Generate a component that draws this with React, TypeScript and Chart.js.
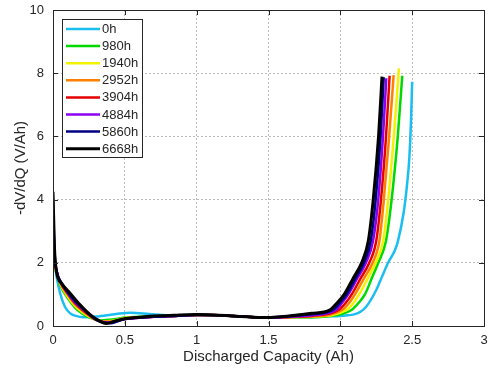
import React, { useEffect, useRef } from "react";
import { Chart, registerables } from "chart.js";

Chart.register(...registerables);

const seriesLabels = ["0h", "980h", "1940h", "2952h", "3904h", "4884h", "5860h", "6668h"];
const seriesColors = ["#1BBEF0", "#00D800", "#F2F200", "#FF8000", "#E60000", "#8A00F5", "#000080", "#000000"];
const seriesWidths = [2.5, 2.5, 2.5, 2.5, 2.5, 2.5, 2.5, 3];

const xTicks = [0, 0.5, 1, 1.5, 2, 2.5, 3];
const yTicks = [0, 2, 4, 6, 8, 10];

// 0h
const cap0h = [0, 0.01, 0.025, 0.05, 0.083, 0.12, 0.16, 0.21, 0.3, 0.44, 0.54, 0.67, 0.8, 0.9, 1.0, 1.1, 1.2, 1.3, 1.4, 1.5, 1.6, 1.7, 1.8, 1.9, 2.0, 2.05, 2.09, 2.14, 2.18, 2.25, 2.29, 2.33, 2.38, 2.4, 2.44, 2.465, 2.48, 2.492, 2.5];
const dvdq0h = [2.35, 2.0, 1.56, 1.03, 0.61, 0.4, 0.32, 0.28, 0.3, 0.38, 0.42, 0.38, 0.34, 0.34, 0.35, 0.34, 0.33, 0.3, 0.28, 0.27, 0.26, 0.27, 0.28, 0.3, 0.32, 0.34, 0.36, 0.45, 0.61, 1.14, 1.56, 1.98, 2.4, 2.67, 3.57, 4.5, 5.3, 6.5, 7.73];

// 980h
const cap980h = [0, 0.01, 0.025, 0.05, 0.1, 0.15, 0.2, 0.25, 0.3, 0.35, 0.4, 0.45, 0.5, 0.6, 0.7, 0.8, 0.9, 1.0, 1.1, 1.2, 1.3, 1.4, 1.5, 1.6, 1.7, 1.8, 1.9, 2.075, 2.125, 2.171, 2.218, 2.264, 2.318, 2.357, 2.4, 2.431];
const dvdq980h = [2.8, 1.95, 1.68, 1.3, 0.9, 0.6, 0.4, 0.27, 0.2, 0.18, 0.2, 0.23, 0.27, 0.29, 0.3, 0.31, 0.33, 0.35, 0.35, 0.33, 0.3, 0.28, 0.27, 0.27, 0.28, 0.28, 0.3, 0.5, 0.72, 1.0, 1.5, 2.0, 2.7, 4.0, 6.0, 7.92];

// 1940h
const cap1940h = [0, 0.01, 0.025, 0.05, 0.1, 0.15, 0.2, 0.25, 0.3, 0.35, 0.4, 0.45, 0.5, 0.6, 0.7, 0.8, 0.9, 1.0, 1.1, 1.2, 1.3, 1.4, 1.5, 1.6, 1.7, 1.8, 2.04, 2.09, 2.131, 2.19, 2.246, 2.298, 2.333, 2.372, 2.408];
const dvdq1940h = [3.0, 2.0, 1.7, 1.34, 0.95, 0.65, 0.45, 0.3, 0.19, 0.15, 0.16, 0.2, 0.25, 0.28, 0.3, 0.31, 0.33, 0.35, 0.35, 0.33, 0.3, 0.28, 0.27, 0.27, 0.28, 0.29, 0.5, 0.72, 1.0, 1.5, 2.0, 2.7, 4.0, 6.0, 8.15];

// 2952h
const cap2952h = [0, 0.01, 0.025, 0.05, 0.1, 0.15, 0.2, 0.25, 0.3, 0.35, 0.4, 0.45, 0.5, 0.6, 0.7, 0.8, 0.9, 1.0, 1.1, 1.2, 1.3, 1.4, 1.5, 1.6, 1.7, 1.8, 2.01, 2.06, 2.102, 2.164, 2.225, 2.272, 2.303, 2.34, 2.371];
const dvdq2952h = [3.3, 2.1, 1.72, 1.37, 1.0, 0.7, 0.5, 0.33, 0.19, 0.14, 0.14, 0.18, 0.23, 0.27, 0.29, 0.31, 0.33, 0.35, 0.35, 0.33, 0.3, 0.28, 0.27, 0.27, 0.29, 0.3, 0.5, 0.72, 1.0, 1.5, 2.0, 2.7, 4.0, 6.0, 7.94];

// 3904h
const cap3904h = [0, 0.01, 0.025, 0.05, 0.1, 0.15, 0.2, 0.25, 0.3, 0.35, 0.4, 0.45, 0.5, 0.6, 0.7, 0.8, 0.9, 1.0, 1.1, 1.2, 1.3, 1.4, 1.5, 1.6, 1.7, 1.8, 1.985, 2.035, 2.079, 2.14, 2.201, 2.25, 2.283, 2.318, 2.343];
const dvdq3904h = [3.5, 2.2, 1.74, 1.4, 1.04, 0.74, 0.53, 0.35, 0.2, 0.13, 0.12, 0.17, 0.22, 0.26, 0.29, 0.31, 0.33, 0.35, 0.35, 0.33, 0.3, 0.28, 0.27, 0.28, 0.3, 0.32, 0.5, 0.72, 1.0, 1.5, 2.0, 2.7, 4.0, 6.0, 7.92];

// 4884h
const cap4884h = [0, 0.01, 0.025, 0.05, 0.1, 0.15, 0.2, 0.25, 0.3, 0.35, 0.4, 0.45, 0.5, 0.6, 0.7, 0.8, 0.9, 1.0, 1.1, 1.2, 1.3, 1.4, 1.5, 1.6, 1.7, 1.8, 1.965, 2.01, 2.055, 2.117, 2.178, 2.228, 2.264, 2.297, 2.32];
const dvdq4884h = [3.7, 2.3, 1.75, 1.42, 1.07, 0.77, 0.56, 0.37, 0.2, 0.12, 0.11, 0.16, 0.22, 0.26, 0.29, 0.31, 0.33, 0.35, 0.35, 0.33, 0.3, 0.28, 0.27, 0.28, 0.31, 0.34, 0.5, 0.72, 1.0, 1.5, 2.0, 2.7, 4.0, 6.0, 7.84];

// 5860h
const cap5860h = [0, 0.01, 0.025, 0.05, 0.1, 0.15, 0.2, 0.25, 0.3, 0.35, 0.4, 0.45, 0.5, 0.6, 0.7, 0.8, 0.9, 1.0, 1.1, 1.2, 1.3, 1.4, 1.5, 1.6, 1.7, 1.8, 1.945, 1.995, 2.044, 2.104, 2.164, 2.212, 2.246, 2.28, 2.302];
const dvdq5860h = [4.0, 2.4, 1.74, 1.44, 1.08, 0.8, 0.58, 0.38, 0.2, 0.12, 0.09, 0.15, 0.22, 0.26, 0.29, 0.31, 0.33, 0.35, 0.35, 0.33, 0.3, 0.28, 0.27, 0.29, 0.33, 0.37, 0.5, 0.72, 1.0, 1.5, 2.0, 2.7, 4.0, 6.0, 7.87];

// 6668h
const cap6668h = [0, 0.01, 0.025, 0.06, 0.12, 0.19, 0.26, 0.33, 0.37, 0.44, 0.51, 0.6, 0.675, 0.8, 0.88, 1.0, 1.1, 1.2, 1.3, 1.4, 1.5, 1.6, 1.7, 1.8, 1.925, 1.975, 2.027, 2.088, 2.148, 2.195, 2.229, 2.266, 2.29];
const dvdq6668h = [4.25, 2.5, 1.7, 1.35, 1.03, 0.66, 0.35, 0.14, 0.08, 0.17, 0.24, 0.28, 0.31, 0.33, 0.35, 0.36, 0.35, 0.33, 0.3, 0.28, 0.27, 0.3, 0.35, 0.4, 0.5, 0.72, 1.0, 1.5, 2.0, 2.7, 4.0, 6.0, 7.89];

const capSeries = [cap0h, cap980h, cap1940h, cap2952h, cap3904h, cap4884h, cap5860h, cap6668h];
const dvdqSeries = [dvdq0h, dvdq980h, dvdq1940h, dvdq2952h, dvdq3904h, dvdq4884h, dvdq5860h, dvdq6668h];

const FONT = "Arial, 'Liberation Sans', Helvetica, sans-serif";
const TEXT = "#262626";

const framePlugin = {
  id: "frameAndLegend",
  afterDatasetsDraw(chart: any) {
    const { ctx, chartArea } = chart;
    const { left, right, top, bottom } = chartArea;
    const xs = chart.scales.x;
    const ys = chart.scales.y;
    ctx.save();
    ctx.strokeStyle = TEXT;
    ctx.lineWidth = 1;
    ctx.setLineDash([]);
    ctx.strokeRect(Math.round(left) + 0.5, Math.round(top) + 0.5, Math.round(right - left), Math.round(bottom - top));
    const tl = 5;
    ctx.beginPath();
    xTicks.forEach((v) => {
      const px = Math.round(xs.getPixelForValue(v)) + 0.5;
      ctx.moveTo(px, bottom);
      ctx.lineTo(px, bottom - tl);
      ctx.moveTo(px, top);
      ctx.lineTo(px, top + tl);
    });
    yTicks.forEach((v) => {
      const py = Math.round(ys.getPixelForValue(v)) + 0.5;
      ctx.moveTo(left, py);
      ctx.lineTo(left + tl, py);
      ctx.moveTo(right, py);
      ctx.lineTo(right - tl, py);
    });
    ctx.stroke();

    const bx = 62.5, by = 19.5, bw = 80, bh = 138;
    ctx.fillStyle = "#ffffff";
    ctx.fillRect(bx, by, bw, bh);
    ctx.strokeStyle = TEXT;
    ctx.strokeRect(bx, by, bw, bh);
    ctx.font = `13px ${FONT}`;
    ctx.textBaseline = "middle";
    ctx.textAlign = "left";
    seriesLabels.forEach((lab, i) => {
      const y = 29 + i * 17.1;
      ctx.strokeStyle = seriesColors[i];
      ctx.lineWidth = seriesWidths[i];
      ctx.beginPath();
      ctx.moveTo(66, y);
      ctx.lineTo(100, y);
      ctx.stroke();
      ctx.fillStyle = TEXT;
      ctx.fillText(lab, 102, y + 0.5);
    });
    ctx.restore();
  },
};

export default function App() {
  const ref = useRef<HTMLCanvasElement | null>(null);
  useEffect(() => {
    document.body.style.margin = "0";
    const canvas = ref.current!;
    const datasets = seriesLabels.map((lab, i) => ({
      label: lab,
      data: capSeries[i].map((x, j) => ({ x, y: dvdqSeries[i][j] })),
      borderColor: seriesColors[i],
      backgroundColor: seriesColors[i],
      borderWidth: seriesWidths[i],
      pointRadius: 0,
      showLine: true,
      fill: false,
      cubicInterpolationMode: "monotone" as const,
      order: seriesLabels.length - 1 - i,
    }));
    const chart = new Chart(canvas, {
      type: "scatter",
      data: { datasets },
      options: {
        animation: false,
        responsive: false,
        maintainAspectRatio: false,
        layout: { padding: { top: 10, right: 7, bottom: 0, left: 0 } },
        plugins: {
          legend: { display: false },
          tooltip: { enabled: false },
        },
        scales: {
          x: {
            type: "linear",
            min: 0,
            max: 3,
            afterFit: (s: any) => { s.height = 50; s.paddingLeft = 0; s.paddingRight = 0; },
            afterBuildTicks: (s: any) => { s.ticks = xTicks.map((v) => ({ value: v })); },
            ticks: { color: TEXT, font: { family: FONT, size: 13 }, padding: 7, maxRotation: 0, callback: (v: any) => String(v) },
            grid: { color: "#bdbdbd", lineWidth: 1, drawTicks: false },
            border: { display: false, dash: [2, 2] },
            title: { display: true, text: "Discharged Capacity (Ah)", color: TEXT, font: { family: FONT, size: 15 }, padding: { top: 0, bottom: 10 } },
          },
          y: {
            type: "linear",
            min: 0,
            max: 10,
            afterFit: (s: any) => { s.width = 53; s.paddingTop = 0; s.paddingBottom = 0; },
            afterBuildTicks: (s: any) => { s.ticks = yTicks.map((v) => ({ value: v })); },
            ticks: { color: TEXT, font: { family: FONT, size: 13 }, padding: 9, callback: (v: any) => String(v) },
            grid: { color: "#bdbdbd", lineWidth: 1, drawTicks: false },
            border: { display: false, dash: [2, 2] },
            title: { display: true, text: "-dV/dQ (V/Ah)", color: TEXT, font: { family: FONT, size: 15 }, padding: { top: 12, bottom: 0 } },
          },
        },
      },
      plugins: [framePlugin],
    });
    return () => chart.destroy();
  }, []);
  return (
    <div style={{ width: 491, height: 376, background: "#fff" }}>
      <canvas ref={ref} width={491} height={376} style={{ display: "block" }} />
    </div>
  );
}
